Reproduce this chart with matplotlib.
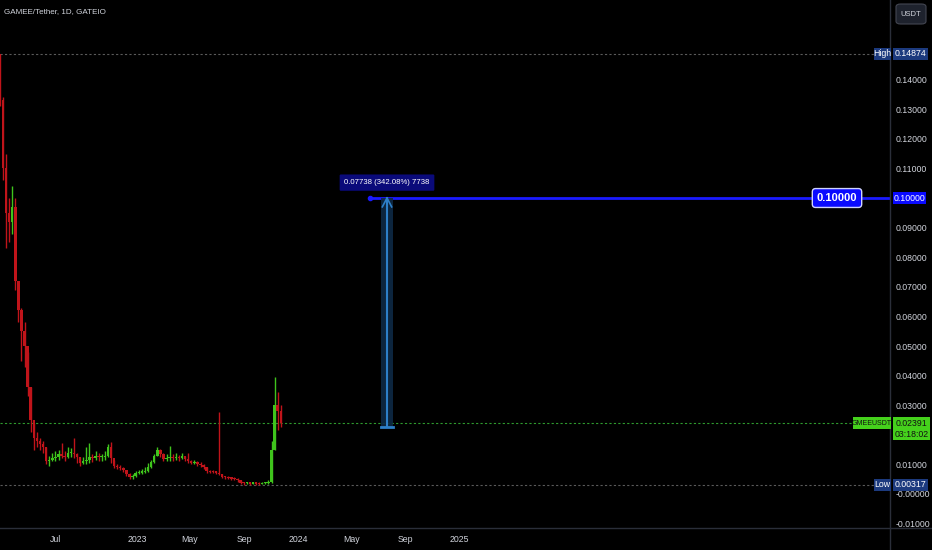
import datetime as dt
import matplotlib
matplotlib.use("Agg")
import matplotlib.pyplot as plt
import matplotlib.dates as mdates
from matplotlib.patches import Rectangle, FancyBboxPatch

plt.rcParams['font.family'] = ['Liberation Sans', 'DejaVu Sans']

# ---------------------------------------------------------------------
# donnees (bougies hebdo)
start_day = dt.date(2022, 2, 24)
first_open = 0.1487
closes = [0.1330, 0.1100, 0.0950, 0.0920, 0.0970, 0.0720, 0.0620, 0.0550, 0.0500, 0.0360,
          0.0250, 0.0190, 0.0180, 0.0170, 0.0160, 0.0110, 0.0115, 0.0120, 0.0125, 0.0135,
          0.0130, 0.0125, 0.0138, 0.0140, 0.0135, 0.0125, 0.0105, 0.0110, 0.0115, 0.0125,
          0.0120, 0.0130, 0.0125, 0.0125, 0.0130, 0.0160, 0.0120, 0.0095, 0.0092, 0.0088,
          0.0080, 0.0068, 0.0058, 0.0062, 0.0070, 0.0072, 0.0075, 0.0078, 0.0090, 0.0108,
          0.0130, 0.0150, 0.0135, 0.0118, 0.0122, 0.0125, 0.0120, 0.0125, 0.0122, 0.0128,
          0.0118, 0.0112, 0.0105, 0.0108, 0.0100, 0.0098, 0.0090, 0.0078, 0.0075, 0.0074,
          0.0072, 0.0068, 0.0058, 0.0056, 0.0054, 0.0052, 0.0050, 0.0046, 0.0038, 0.0036,
          0.0037, 0.0035, 0.0036, 0.0035, 0.0034, 0.0036, 0.0038, 0.0040, 0.0150, 0.0300,
          0.0280, 0.02391]
highs = [0.14874, 0.1340, 0.1150, 0.1000, 0.1040, 0.1000, 0.0720, 0.0630, 0.0580, 0.0480,
         0.0360, 0.0240, 0.0210, 0.0190, 0.0180, 0.0160, 0.0130, 0.0140, 0.0145, 0.0150,
         0.0172, 0.0145, 0.0160, 0.0155, 0.0189, 0.0140, 0.0125, 0.0125, 0.0159, 0.0172,
         0.0135, 0.0145, 0.0140, 0.0135, 0.0145, 0.0170, 0.0176, 0.0115, 0.0100, 0.0098,
         0.0092, 0.0080, 0.0070, 0.0068, 0.0076, 0.0080, 0.0085, 0.0092, 0.0105, 0.0115,
         0.0135, 0.0159, 0.0152, 0.0138, 0.0135, 0.0162, 0.0135, 0.0138, 0.0132, 0.0138,
         0.0130, 0.0140, 0.0115, 0.0115, 0.0112, 0.0108, 0.0100, 0.0092, 0.0082, 0.0080,
         0.0078, 0.0278, 0.0068, 0.0062, 0.0060, 0.0058, 0.0056, 0.0054, 0.0048, 0.0042,
         0.0042, 0.0040, 0.0041, 0.0040, 0.0039, 0.0040, 0.0042, 0.0046, 0.0180, 0.0395,
         0.0345, 0.0300]
lows = [0.1310, 0.1060, 0.0830, 0.0850, 0.0880, 0.0690, 0.0580, 0.0450, 0.0430, 0.0330,
        0.0210, 0.0150, 0.0160, 0.0150, 0.0140, 0.0100, 0.0095, 0.0110, 0.0110, 0.0115,
        0.0120, 0.0110, 0.0120, 0.0125, 0.0120, 0.0105, 0.0095, 0.0100, 0.0100, 0.0105,
        0.0108, 0.0115, 0.0110, 0.0110, 0.0115, 0.0125, 0.0105, 0.0088, 0.0085, 0.0082,
        0.0075, 0.0062, 0.0052, 0.0052, 0.0058, 0.0066, 0.0068, 0.0070, 0.0075, 0.0088,
        0.0105, 0.0128, 0.0125, 0.0110, 0.0112, 0.0112, 0.0112, 0.0115, 0.0112, 0.0118,
        0.0110, 0.0105, 0.0100, 0.0100, 0.0095, 0.0092, 0.0085, 0.0072, 0.0070, 0.0070,
        0.0066, 0.0064, 0.0054, 0.0052, 0.0050, 0.0048, 0.0046, 0.0042, 0.0034, 0.0032,
        0.0033, 0.00317, 0.0033, 0.0032, 0.0032, 0.0033, 0.0034, 0.0035, 0.0038, 0.0150,
        0.0215, 0.0225]

price_high = 0.14874
price_low = 0.00317
last_price = 0.02391
countdown = "03:18:02"
target = 0.10000
measure_base = 0.02262
measure_text = "0.07738 (342.08%) 7738"

# 0.15, 0.10 et 0.02 sont caches par les etiquettes
ytick_vals = [0.14, 0.13, 0.12, 0.11, 0.09, 0.08, 0.07, 0.06, 0.05, 0.04, 0.03,
              0.01, 0.0, -0.01]
xtick_dates = [dt.date(2022, 7, 1), dt.date(2023, 1, 1), dt.date(2023, 5, 1), dt.date(2023, 9, 1),
               dt.date(2024, 1, 1), dt.date(2024, 5, 1), dt.date(2024, 9, 1), dt.date(2025, 1, 1)]
xtick_labels = ["Jul", "2023", "May", "Sep", "2024", "May", "Sep", "2025"]

# ---------------------------------------------------------------------
BG = "#000000"
TXT = "#d1d4dc"
UP = "#3fc41c"
DOWN = "#c0141a"
FS = 6.3

fig = plt.figure(figsize=(9.32, 5.5), dpi=100, facecolor=BG)
ax = fig.add_axes([0, 0.04, 890 / 932, 0.96])
ax.set_facecolor(BG)

ref = mdates.date2num(dt.date(2023, 1, 1))
px_day = 0.441
y0, y1 = -0.01149, 0.1669
ax.set_xlim(ref - 137 / px_day, ref + (890 - 137) / px_day)
ax.set_ylim(y0, y1)

def xpx(px):
    # pixel -> date (num)
    return ref + (px - 137) / px_day

dates = [mdates.date2num(start_day + dt.timedelta(days=7 * i)) for i in range(len(closes))]
opens = [first_open] + closes[:-1]

for d, o, h, l, c in zip(dates, opens, highs, lows, closes):
    col = UP if c >= o else DOWN
    ax.vlines(d, l, h, color=col, lw=1.0, zorder=3)
    body = max(abs(c - o), 0.0004)
    ax.add_patch(Rectangle((d - 2.8, min(o, c)), 5.6, body, facecolor=col, edgecolor='none', zorder=4))

# lignes horizontales
ax.axhline(price_high, color="#5a5a5a", lw=0.8, ls=(0, (2, 2)), zorder=2)
ax.axhline(price_low, color="#5a5a5a", lw=0.8, ls=(0, (2, 2)), zorder=2)
ax.axhline(last_price, color="#2e9a2e", lw=0.8, ls=(0, (2, 2)), zorder=2)

# ligne cible 0.10
ax.plot([xpx(370), ax.get_xlim()[1]], [target, target], color="#1a1aff", lw=2, zorder=5)
ax.plot([xpx(370)], [target], 'o', color="#1a1aff", ms=3, zorder=5)
ax.text(xpx(837), target, "%.5f" % target, color="white", fontsize=8, fontweight="bold",
        ha="center", va="center", zorder=7,
        bbox=dict(boxstyle="round,pad=0.4,rounding_size=0.3", fc="#0a0aff", ec="#cfd3ff", lw=1))

# outil de mesure
xm0, xm1 = xpx(381), xpx(393)
xmc = (xm0 + xm1) / 2
ax.add_patch(Rectangle((xm0, measure_base), xm1 - xm0, target - measure_base,
                       facecolor="#0e2a45", edgecolor="none", alpha=0.9, zorder=5))
ax.plot([xmc, xmc], [measure_base, target], color="#2d7fc8", lw=1.5, zorder=6)
ax.plot([xm0, xm1], [measure_base, measure_base], color="#2d7fc8", lw=2, zorder=6)
ax.plot([xm0 + 3, xmc, xm1 - 3], [target - 0.003, target, target - 0.003], color="#2d7fc8", lw=1.2, zorder=6)
ax.text(xpx(387), 0.1052, measure_text, color="white", fontsize=5.6,
        ha="center", va="center", zorder=7,
        bbox=dict(boxstyle="round,pad=0.6,rounding_size=0.15", fc="#0a0a7a", ec="none"))

# axes
for s in ax.spines.values():
    s.set_visible(False)
ax.yaxis.tick_right()
ax.set_yticks(ytick_vals)
ax.set_yticklabels(["%.5f" % v if v != 0 else "-0.00000" for v in ytick_vals])
ax.tick_params(axis='y', length=0, pad=4, labelsize=FS, labelcolor=TXT)
ax.set_xticks([mdates.date2num(d) for d in xtick_dates])
ax.set_xticklabels(xtick_labels)
ax.tick_params(axis='x', length=0, pad=5, labelsize=FS, labelcolor=TXT)
ax.grid(False)

# separateurs
fig.add_artist(plt.Line2D([890 / 932, 890 / 932], [0, 1], color="#2a2e39", lw=1))
fig.add_artist(plt.Line2D([0, 1], [0.04, 0.04], color="#2a2e39", lw=1))

# etiquettes de l'axe des prix
def fig_y(v):
    return 0.04 + 0.96 * (v - y0) / (y1 - y0)

def ybox(v, text, fc, tc, x=893, w=35, h=12, fs=FS):
    fy = fig_y(v)
    fig.patches.append(Rectangle((x / 932, fy - h / 2 / 550), w / 932, h / 550, facecolor=fc,
                                 edgecolor='none', transform=fig.transFigure, zorder=10))
    fig.text((x + w / 2) / 932, fy, text, color=tc, fontsize=fs, ha="center", va="center", zorder=11)

ybox(price_high, "%.5f" % price_high, "#1c3a7e", "white")
ybox(price_high, "High", "#1c3a7e", "white", x=874, w=17)
ybox(price_low, "%.5f" % price_low, "#1c3a7e", "white")
ybox(price_low, "Low", "#1c3a7e", "white", x=874, w=17)
ybox(target, "%.5f" % target, "#0a0aff", "white", w=33)
ybox(last_price, "GMEEUSDT", "#45d11c", "#111111", x=853, w=38, fs=5)

fy = fig_y(last_price)
fig.patches.append(Rectangle((893 / 932, fy - 17 / 550), 37 / 932, 23 / 550, facecolor="#45d11c",
                             edgecolor='none', transform=fig.transFigure, zorder=10))
fig.text(911.5 / 932, fy, "%.5f" % last_price, color="#111111", fontsize=FS, ha="center", va="center", zorder=11)
fig.text(911.5 / 932, fy - 11 / 550, countdown, color="#111111", fontsize=FS, ha="center", va="center", zorder=11)

# titre et bouton USDT
fig.text(4 / 932, 1 - 12 / 550, "GAMEE/Tether, 1D, GATEIO", color=TXT, fontsize=5.8, ha="left", va="center")
fig.patches.append(FancyBboxPatch((896 / 932, 1 - 24 / 550), 30 / 932, 20 / 550,
                                  boxstyle="round,pad=0,rounding_size=0.005", facecolor="#1e222d",
                                  edgecolor="#434651", lw=0.8, transform=fig.transFigure))
fig.text(911 / 932, 1 - 14 / 550, "USDT", color=TXT, fontsize=5.5, ha="center", va="center")

fig.savefig("out.png", dpi=100, facecolor=BG)
